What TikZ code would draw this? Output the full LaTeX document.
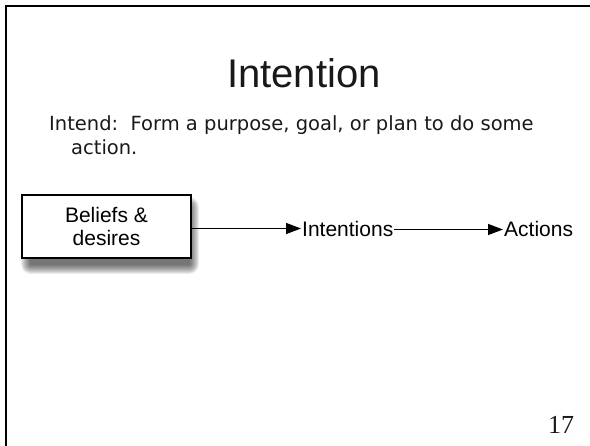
\documentclass[tikz,border=0pt]{standalone}
\usepackage{fontspec}
\setmainfont{Liberation Sans}
\newfontfamily\bodyfont{DejaVu Sans}
\newfontfamily\serifnum{Liberation Serif}
\usetikzlibrary{arrows.meta}
\tikzset{
  frameline/.style={line width=2pt, black},
  txt/.style={inner sep=0pt, anchor=base west, text=black!90},
  bodytxt/.style={txt, font=\bodyfont\fontsize{19.5}{24}\selectfont},
  flowlabel/.style={inner sep=1pt, anchor=west, text height=15pt, text depth=0pt, font=\fontsize{21}{25}\selectfont},
  flowarrow/.style={line width=1.4pt, -{Triangle[length=15pt,width=11pt]}},
  beliefbox/.style={draw=black, line width=1.6pt, fill=white, minimum width=169pt, minimum height=63pt, inner sep=0pt, align=center, font=\fontsize{21}{25}\selectfont}
}
\begin{document}
\begin{tikzpicture}[x=1pt,y=-1pt]
\useasboundingbox (0,0) rectangle (590,446);
% slide frame
\draw[frameline] (6,446) -- (6,6) -- (590,6);
% title
\node[txt, font=\fontsize{40}{48}\selectfont] (title) at (227,88) {Intention};
% body text
\node[bodytxt] (line1) at (49,131) {Intend:\ \ Form a purpose, goal, or plan to do some};
\node[bodytxt] (line2) at (71,155) {action.};
% blurred shadow of box
\foreach \k in {9,8,...,0}{
  \fill[black, opacity=0.075, rounded corners=\k pt+1pt] (30-\k,206-\k) rectangle (190+\k,265+\k);
}
% box
\node[beliefbox] (bd) at (106.5,226.5) {Beliefs \&\\[-2pt]desires};
% flow labels
\node[flowlabel] (int) at (301,229.5) {Intentions};
\node[flowlabel] (act) at (503,229.5) {Actions};
% arrows
\draw[flowarrow] (bd.east |- 0,228.5) -- (int.west |- 0,228.5);
\draw[flowarrow] (int.east) -- (act.west);
% page number
\node[txt, font=\serifnum\fontsize{26}{30}\selectfont] (page) at (548,434) {17};
\end{tikzpicture}
\end{document}
